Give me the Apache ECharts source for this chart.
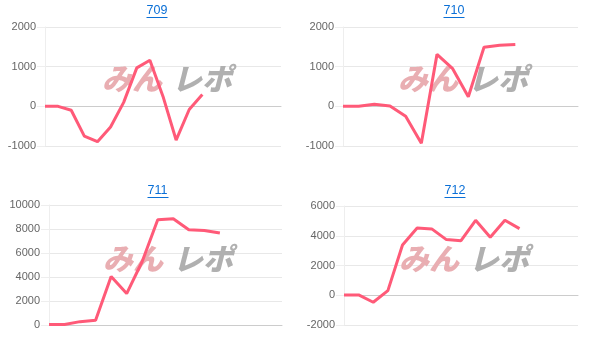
<!DOCTYPE html>
<html>
<head>
<meta charset="utf-8">
<script src="https://cdn.jsdelivr.net/npm/echarts@6/dist/echarts.min.js"></script>
<style>
html,body{margin:0;padding:0;background:#fff;}
#c{width:605px;height:346px;}
</style>
</head>
<body>
<div id="c"></div>
<script>
// ---- data ----
var titles = ['709', '710', '711', '712'];
var catCount = [19, 16, 16, 17];
var values709 = [0, 0, -100, -750, -890, -520, 100, 970, 1160, 250, -850, -80, 300];
var values710 = [0, 0, 50, 10, -250, -930, 1310, 950, 240, 1490, 1540, 1560];
var values711 = [50, 50, 280, 400, 4040, 2620, 5290, 8770, 8860, 7940, 7880, 7660];
var values712 = [20, 20, -470, 310, 3380, 4520, 4460, 3740, 3670, 5040, 3900, 5040, 4480];
var yMin = [-1000, -1000, 0, -2000];
var yMax = [2000, 2000, 10000, 6000];
var yInterval = [1000, 1000, 2000, 2000];
var seriesValues = [values709, values710, values711, values712];

// ---- layout ----
var grids = [
  {left: 45, top: 27, width: 236, height: 119},
  {left: 343, top: 27, width: 235, height: 119},
  {left: 49, top: 205, width: 233, height: 120},
  {left: 344, top: 206, width: 234, height: 119}
];
var titleCenter = [[157, 4], [454, 4], [158, 184], [455, 184]];
var logoPos = [[102, 64], [398, 64], [103, 244], [399, 244]];

var chart = echarts.init(document.getElementById('c'), null, {renderer: 'canvas'});

var option = {
  animation: false,
  backgroundColor: '#fff',
  title: [], grid: [], xAxis: [], yAxis: [], series: [], graphic: []
};

var titleFont = 12.5;
var titleW = 21;

for (var i = 0; i < 4; i++) {
  var cats = [];
  for (var k = 1; k <= catCount[i]; k++) cats.push(String(k));
  var data = seriesValues[i].slice();
  while (data.length < cats.length) data.push(null);

  option.grid.push(grids[i]);
  option.title.push({
    text: titles[i],
    left: titleCenter[i][0] - titleW / 2, top: titleCenter[i][1],
    padding: 0,
    textStyle: {color: '#0a6fd6', fontSize: titleFont, fontWeight: 'normal', fontFamily: 'Liberation Sans, Arial, sans-serif'}
  });
  option.xAxis.push({
    type: 'category', gridIndex: i, data: cats, boundaryGap: false,
    axisLine: {show: true, lineStyle: {color: '#cccccc', width: 1}},
    axisTick: {show: false}, axisLabel: {show: false}, splitLine: {show: false}
  });
  option.yAxis.push({
    type: 'value', gridIndex: i, min: yMin[i], max: yMax[i], interval: yInterval[i],
    axisLine: {show: true, lineStyle: {color: '#eeeeee'}},
    axisTick: {show: true, length: 8, lineStyle: {color: '#eeeeee'}},
    axisLabel: {color: '#666', fontSize: 11, margin: 9, fontFamily: 'Liberation Sans, Arial, sans-serif',
      formatter: function (v) { return String(v); }},
    splitLine: {show: true, lineStyle: {color: '#e8e8e8'}}
  });
  option.series.push({
    type: 'line', xAxisIndex: i, yAxisIndex: i, data: data,
    showSymbol: false, symbol: 'none', connectNulls: false, z: 5,
    lineStyle: {color: '#ff5a78', width: 3},
    itemStyle: {color: '#ff5a78'}
  });
  // underline for title link
  option.graphic.push({
    type: 'rect', z: 10,
    shape: {x: titleCenter[i][0] - titleW / 2, y: titleCenter[i][1] + 13, width: titleW, height: 1},
    style: {fill: '#0a6fd6'}
  });
  // watermark
  option.graphic.push({
    type: 'text', z: 1, left: logoPos[i][0], top: logoPos[i][1],
    style: {text: 'みん', fill: '#e9aeb2', font: 'italic 900 30px "Noto Sans CJK JP", sans-serif'}
  });
  option.graphic.push({
    type: 'text', z: 1, left: logoPos[i][0] + 70, top: logoPos[i][1],
    style: {text: 'レポ', fill: '#b0b0b0', font: 'italic 900 30px "Noto Sans CJK JP", sans-serif'}
  });
}

chart.setOption(option);
</script>
</body>
</html>
